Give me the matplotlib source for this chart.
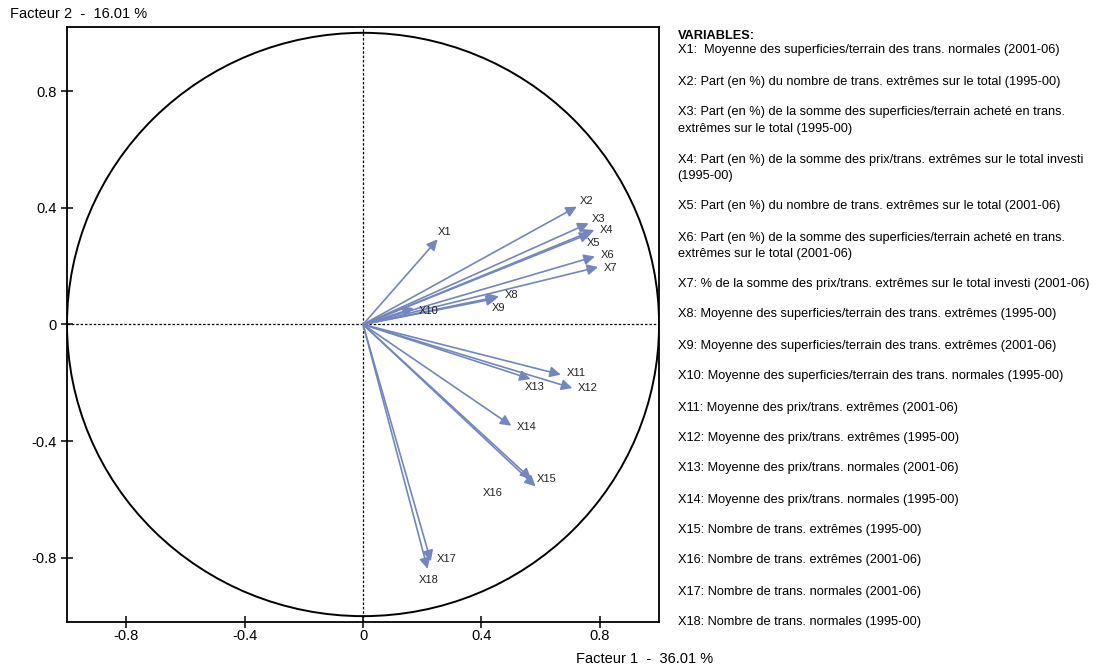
import matplotlib
matplotlib.use('Agg')
from matplotlib import pyplot as plt
from matplotlib.patches import Circle

plt.rcParams['font.family'] = ['Liberation Sans', 'DejaVu Sans']

# coordinates of the variables on factors 1 and 2
var_names = ['X1', 'X2', 'X3', 'X4', 'X5', 'X6', 'X7', 'X8', 'X9',
             'X10', 'X11', 'X12', 'X13', 'X14', 'X15', 'X16', 'X17', 'X18']
factor1 = [0.252, 0.722, 0.762, 0.781, 0.769, 0.783, 0.794, 0.459, 0.453,
           0.171, 0.668, 0.707, 0.566, 0.501, 0.568, 0.583, 0.229, 0.218]
factor2 = [0.292, 0.404, 0.347, 0.324, 0.313, 0.233, 0.197, 0.096, 0.090,
           0.056, -0.172, -0.218, -0.187, -0.347, -0.530, -0.555, -0.812, -0.838]

# label offsets (points) from the arrow tip
label_dx = [0, 2, 2, 4, -3, 4, 4, 4, -4, 4, 4, 4, -4, 4, 4, -38, 4, -6]
label_dy = [5, 4, 3, 0, -7, 1, -1, 1, -7, -2, 1, 0, -6, -1, 0, -5, 2, -8]

tick_vals = [-0.8, -0.4, 0, 0.4, 0.8]
tick_labels = ['-0.8', '-0.4', '0', '0.4', '0.8']

descriptions = [
    'X1:  Moyenne des superficies/terrain des trans. normales (2001-06)',
    'X2: Part (en %) du nombre de trans. extrêmes sur le total (1995-00)',
    'X3: Part (en %) de la somme des superficies/terrain acheté en trans.\nextrêmes sur le total (1995-00)',
    'X4: Part (en %) de la somme des prix/trans. extrêmes sur le total investi\n(1995-00)',
    'X5: Part (en %) du nombre de trans. extrêmes sur le total (2001-06)',
    'X6: Part (en %) de la somme des superficies/terrain acheté en trans.\nextrêmes sur le total (2001-06)',
    'X7: % de la somme des prix/trans. extrêmes sur le total investi (2001-06)',
    'X8: Moyenne des superficies/terrain des trans. extrêmes (1995-00)',
    'X9: Moyenne des superficies/terrain des trans. extrêmes (2001-06)',
    'X10: Moyenne des superficies/terrain des trans. normales (1995-00)',
    'X11: Moyenne des prix/trans. extrêmes (2001-06)',
    'X12: Moyenne des prix/trans. extrêmes (1995-00)',
    'X13: Moyenne des prix/trans. normales (2001-06)',
    'X14: Moyenne des prix/trans. normales (1995-00)',
    'X15: Nombre de trans. extrêmes (1995-00)',
    'X16: Nombre de trans. extrêmes (2001-06)',
    'X17: Nombre de trans. normales (2001-06)',
    'X18: Nombre de trans. normales (1995-00)',
]
desc_y_px = [49, 80, 111, 158, 205, 236, 283, 313, 345, 375, 406, 437, 467,
             498, 529, 559, 590, 621]

arrow_color = '#7387bd'

fig = plt.figure(figsize=(10.93, 6.68), dpi=100)
ax = fig.add_axes([0.0613, 0.0689, 0.5417, 0.8907])
ax.set_xlim(-1.0, 1.0)
ax.set_ylim(-1.02, 1.02)

ax.add_patch(Circle((0, 0), 1.0, fill=False, ec='black', lw=1.4, zorder=2))
ax.axhline(0, color='black', lw=0.9, ls=(0, (2, 1.5)), zorder=1)
ax.axvline(0, color='black', lw=0.9, ls=(0, (2, 1.5)), zorder=1)

for i in range(len(var_names)):
    ax.annotate('', xy=(factor1[i], factor2[i]), xytext=(0, 0),
                arrowprops=dict(arrowstyle='-|>', color=arrow_color, lw=1.2,
                                shrinkA=0, shrinkB=0, mutation_scale=16),
                zorder=3)
    ax.annotate(var_names[i], xy=(factor1[i], factor2[i]),
                xytext=(label_dx[i], label_dy[i]), textcoords='offset points',
                fontsize=8, ha='left', va='center', color='#222222')

ax.set_xticks(tick_vals)
ax.set_xticklabels(tick_labels)
ax.set_yticks(tick_vals)
ax.set_yticklabels(tick_labels)
ax.tick_params(direction='inout', length=9, width=1.1, labelsize=10.5, pad=3)
ax.tick_params(axis='x', pad=0.5)
for sp in ax.spines.values():
    sp.set_linewidth(1.3)

fig.text(0.009, 0.979, 'Facteur 2  -  16.01 %', fontsize=10.5, ha='left', va='center')
fig.text(0.527, 0.0135, 'Facteur 1  -  36.01 %', fontsize=10.5, ha='left', va='center')

# variable list on the right
fig.text(0.620, 1 - 36 / 668, 'VARIABLES:', fontsize=9.2, fontweight='bold',
         ha='left', va='center')
for txt, yp in zip(descriptions, desc_y_px):
    fig.text(0.620, 1 - (yp - 4.5) / 668, txt, fontsize=9.2, ha='left',
             va='top', linespacing=1.5)

fig.savefig('out.png', dpi=100)
